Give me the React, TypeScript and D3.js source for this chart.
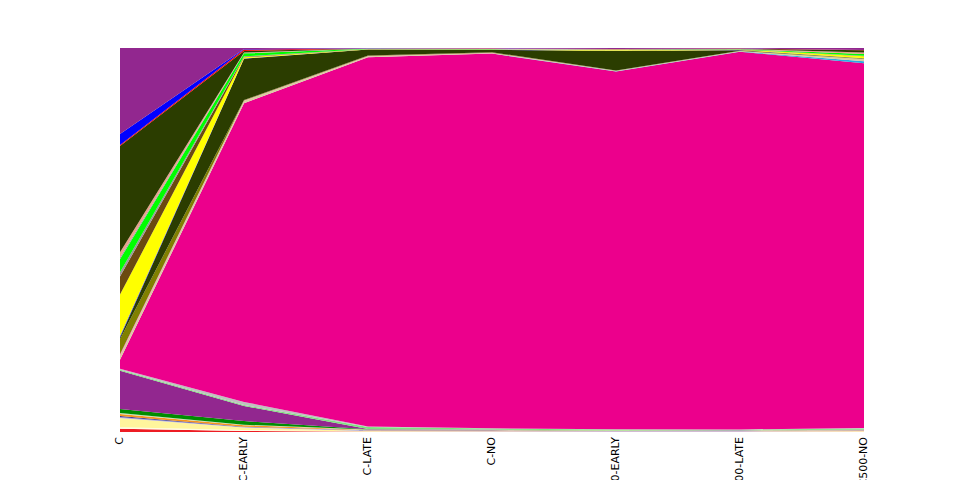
import React from "react";
import * as d3 from "d3";

const categories = ["C", "C-EARLY", "C-LATE", "C-NO", "C500-EARLY", "C500-LATE", "C500-NO"];

const seriesKeys = [
  "s01", "s02", "s03", "s04", "s05", "s06", "s07", "s08", "s09", "s10", "s11",
  "s12", "s12b", "s13", "s14", "s15", "s16", "s17", "s18", "s19", "s20", "s21",
  "s22", "s23", "s24", "s25", "s26", "s27",
];

const seriesColors = [
  "#ed1c24", "#fffde0", "#fff59d", "#a8a0d8", "#2e3192", "#f7941d", "#c5e0b4", "#008c00",
  "#92278f", "#7fe27f", "#c0c0c0", "#ec008c", "#29abe2", "#d8cfa0", "#ff69b4", "#808000",
  "#2b3d00", "#3333ff", "#ffff00", "#6b4a10", "#999999", "#00ff00", "#a0a0a0", "#e9a08a",
  "#2b3d00", "#ff0000", "#0000ff", "#92278f",
];

// values per series (bottom to top), one per category
const seriesValues = [
  [3.3, 1, 0.3, 0.2, 0.2, 0.2, 0.3],
  [1.5, 1, 0.3, 0.3, 0.2, 0.2, 0.3],
  [9, 2.5, 0.5, 0.3, 0.2, 0.2, 0.3],
  [1, 0.5, 0.6, 0.8, 0.4, 0.5, 0.8],
  [1, 0.3, 0.1, 0.1, 0.1, 0.1, 0.1],
  [2, 1.5, 0.3, 0.2, 0.1, 0.1, 0.2],
  [1, 0.5, 0.3, 0.3, 0.2, 0.2, 0.3],
  [4, 3.5, 0.3, 0.1, 0.1, 0.1, 0.2],
  [37.7, 15, 0.3, 0.1, 0.1, 0.1, 0.1],
  [1, 1, 2, 1, 0.8, 0.6, 1],
  [1, 3, 0.5, 0.3, 0.3, 0.3, 0.5],
  [9, 296.5, 371, 376, 359, 379, 364],
  [0, 0, 0, 0.2, 0.3, 0.3, 2],
  [4, 2.5, 1, 0.5, 0.5, 0.3, 2.3],
  [1.5, 0.3, 0.1, 0.1, 0.1, 0.1, 0.1],
  [15, 0.5, 0.5, 0.5, 0.3, 0.3, 0.3],
  [1.5, 41, 6, 2.5, 19.5, 0.5, 0.3],
  [1.5, 0.3, 0.1, 0.1, 0.1, 0.1, 0.1],
  [41, 1, 0.2, 0.2, 0.6, 0.4, 2],
  [18, 0.5, 0.1, 0.1, 0.1, 0.1, 0.1],
  [4, 0.5, 0.1, 0.1, 0.4, 0.2, 0.3],
  [13, 3, 0.3, 0.2, 0.2, 0.2, 1.7],
  [2, 0.3, 0.1, 0.1, 0.1, 0.1, 0.1],
  [5, 0.5, 0.1, 0.2, 0.2, 0.2, 1.5],
  [105, 1.5, 0.1, 0.1, 0.1, 0.2, 2.3],
  [1, 1.5, 0.1, 0.1, 0.1, 0.1, 0.1],
  [11, 0.5, 0.1, 0.1, 0.1, 0.1, 0.1],
  [85, 1, 0.3, 0.5, 1, 0.5, 2],
];

const W = 960;
const H = 480;
const margin = { left: 120, right: 96, top: 48, bottom: 48 };

export default function App() {
  const rows = categories.map((c, i) => {
    const r: Record<string, number | string> = { cat: c };
    seriesKeys.forEach((k, s) => (r[k] = seriesValues[s][i]));
    return r;
  });

  const stack = d3
    .stack<Record<string, number | string>>()
    .keys(seriesKeys)
    .value((d, k) => d[k] as number)
    .order(d3.stackOrderNone)
    .offset(d3.stackOffsetExpand);
  const layers = stack(rows);

  const x = d3
    .scalePoint<number>()
    .domain(categories.map((_, i) => i))
    .range([margin.left, W - margin.right]);
  const y = d3.scaleLinear().domain([0, 1]).range([H - margin.bottom, margin.top]);

  const area = d3
    .area<d3.SeriesPoint<Record<string, number | string>>>()
    .x((_, i) => x(i) as number)
    .y0((d) => y(d[0]))
    .y1((d) => y(d[1]))
    .curve(d3.curveLinear);

  const y0 = H - margin.bottom;

  return (
    <svg
      width={W}
      height={H}
      style={{ position: "absolute", left: 0, top: 0, display: "block" }}
    >
      <rect x={0} y={0} width={W} height={H} fill="#ffffff" />
      <g>
        {layers.map((layer, i) => (
          <path key={layer.key} d={area(layer) || ""} fill={seriesColors[i]} stroke="none" />
        ))}
      </g>
      <g fontFamily="DejaVu Sans" fontSize={11} fill="#000">
        {categories.map((c, i) => (
          <text
            key={i}
            transform={`translate(${x(i)},${y0 + 5}) rotate(-90)`}
            textAnchor="end"
            dy="0.3em"
          >
            {c}
          </text>
        ))}
      </g>
    </svg>
  );
}
